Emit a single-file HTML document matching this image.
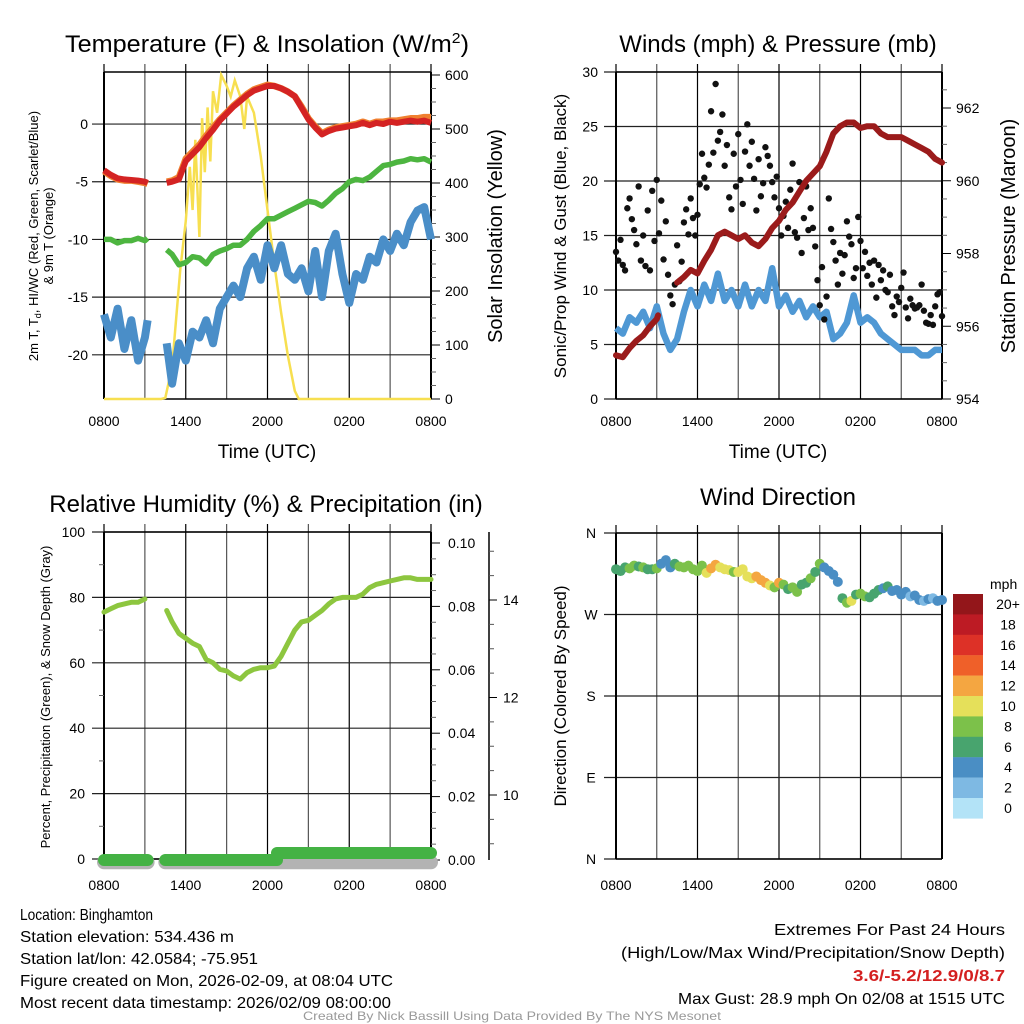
<!DOCTYPE html>
<html><head><meta charset="utf-8"><style>
html,body{margin:0;padding:0;background:#fff;}
svg{display:block;font-family:"Liberation Sans",sans-serif;}
</style></head><body>
<svg id="s" width="1024" height="1024" viewBox="0 0 1024 1024" xmlns="http://www.w3.org/2000/svg">
<text x="267" y="52" font-size="24" text-anchor="middle" textLength="404" lengthAdjust="spacingAndGlyphs">Temperature (F) &amp; Insolation (W/m<tspan dy="-9" font-size="15">2</tspan><tspan dy="9">)</tspan></text>
<text x="778" y="52" font-size="24" text-anchor="middle">Winds (mph) &amp; Pressure (mb)</text>
<text x="266" y="512" font-size="24" text-anchor="middle">Relative Humidity (%) &amp; Precipitation (in)</text>
<text x="778" y="505" font-size="24" text-anchor="middle">Wind Direction</text>

<text x="267" y="458" font-size="19" text-anchor="middle">Time (UTC)</text>
<text x="778" y="458" font-size="19" text-anchor="middle">Time (UTC)</text>

<g transform="translate(38,236) rotate(-90)">
<text x="0" y="0" font-size="13" text-anchor="middle">2m T, T<tspan font-size="9" dy="3">d</tspan><tspan dy="-3">, HI/WC (Red, Green, Scarlet/Blue)</tspan></text>
<text x="0" y="15" font-size="13" text-anchor="middle">&amp; 9m T (Orange)</text>
</g>
<text transform="translate(502,236) rotate(-90)" font-size="20" text-anchor="middle">Solar Insolation (Yellow)</text>
<text transform="translate(566,236) rotate(-90)" font-size="17" text-anchor="middle">Sonic/Prop Wind &amp; Gust (Blue, Black)</text>
<text transform="translate(1015,236) rotate(-90)" font-size="20" text-anchor="middle">Station Pressure (Maroon)</text>
<text transform="translate(50,697) rotate(-90)" font-size="13" text-anchor="middle">Percent, Precipitation (Green), &amp; Snow Depth (Gray)</text>
<text transform="translate(566,696) rotate(-90)" font-size="17" text-anchor="middle">Direction (Colored By Speed)</text>

<g font-size="16">
<text x="20" y="920" textLength="133" lengthAdjust="spacingAndGlyphs">Location: Binghamton</text>
<text x="20" y="942" textLength="214" lengthAdjust="spacingAndGlyphs">Station elevation: 534.436 m</text>
<text x="20" y="964" textLength="238" lengthAdjust="spacingAndGlyphs">Station lat/lon: 42.0584; -75.951</text>
<text x="20" y="986" textLength="373" lengthAdjust="spacingAndGlyphs">Figure created on Mon, 2026-02-09, at 08:04 UTC</text>
<text x="20" y="1008" textLength="371" lengthAdjust="spacingAndGlyphs">Most recent data timestamp: 2026/02/09 08:00:00</text>
</g>
<g font-size="16">
<text x="774" y="935" textLength="231" lengthAdjust="spacingAndGlyphs">Extremes For Past 24 Hours</text>
<text x="621" y="958" textLength="384" lengthAdjust="spacingAndGlyphs">(High/Low/Max Wind/Precipitation/Snow Depth)</text>
<text x="853" y="981" fill="#d42020" font-weight="bold" textLength="152" lengthAdjust="spacingAndGlyphs">3.6/-5.2/12.9/0/8.7</text>
<text x="678" y="1004" textLength="327" lengthAdjust="spacingAndGlyphs">Max Gust: 28.9 mph On 02/08 at 1515 UTC</text>
</g>
<text x="303" y="1020" font-size="12" fill="#999" textLength="418" lengthAdjust="spacingAndGlyphs">Created By Nick Bassill Using Data Provided By The NYS Mesonet</text>
</svg>
<script>
// ---------- data ----------
const xTickHours = [0,6,12,18,24];
const xTickLabels = ["0800","1400","2000","0200","0800"];
const tempTicks = [0,-5,-10,-15,-20];
const solarTicks = [0,100,200,300,400,500,600];
const windTicks = [0,5,10,15,20,25,30];
const presTicks = [954,956,958,960,962];
const rhTicks = [0,20,40,60,80,100];
const precipTicks = [0,0.02,0.04,0.06,0.08,0.10];
const snowTicks = [10,12,14];
const dirTicks = [360,270,180,90,0];
const dirLabels = ["N","W","S","E","N"];

const tHours = [0,0.5,1,1.5,2,2.5,3,3.2,null,4.6,5,5.5,6,6.5,7,7.5,8,8.5,9,9.5,10,10.5,11,11.5,12,12.5,13,13.5,14,14.5,15,15.5,16,16.5,17,17.5,18,18.5,19,19.5,20,20.5,21,21.5,22,22.5,23,23.5,24];
const tempRed = [-4,-4.4,-4.7,-4.8,-4.85,-4.9,-5.0,-5.1,null,-5.1,-5.0,-4.8,-3.2,-2.6,-2.0,-1.2,-0.5,0.3,0.9,1.5,2.0,2.5,2.9,3.1,3.3,3.3,3.1,2.8,2.4,1.4,0.4,-0.3,-0.9,-0.6,-0.4,-0.3,-0.2,-0.1,0.1,-0.1,0.1,0.0,0.2,0.1,0.2,0.3,0.2,0.3,0.1];
const temp9m = [-4.1,-4.5,-4.8,-4.9,-4.9,-5.0,-5.1,-5.2,null,-5.0,-4.9,-4.6,-3.0,-2.4,-1.8,-1.0,-0.3,0.4,1.0,1.6,2.1,2.6,3.0,3.2,3.4,3.3,3.1,2.8,2.4,1.5,0.5,-0.2,-0.8,-0.5,-0.3,-0.2,-0.1,0.0,0.2,0.0,0.2,0.2,0.3,0.3,0.4,0.5,0.5,0.6,0.6];
const tempGreen = [-10,-10,-10.3,-10.1,-10.1,-9.9,-10.1,-9.9,null,-10.9,-11.3,-12.2,-12.0,-11.5,-11.6,-12.1,-11.3,-11.0,-10.8,-10.5,-10.5,-10.0,-9.3,-8.8,-8.2,-8.2,-7.9,-7.6,-7.3,-7.0,-6.7,-6.8,-7.1,-6.6,-6.0,-5.6,-5.0,-4.8,-4.9,-4.6,-4.1,-3.6,-3.5,-3.3,-3.2,-3.0,-3.1,-3.0,-3.3];
const tempBlue = [-16.5,-18.5,-16,-19.5,-17,-20.5,-18.5,-17,null,-19,-22.5,-19,-20.5,-18,-18.5,-17,-19,-16,-15,-14,-15,-12.5,-11.5,-13.5,-10.5,-12.5,-10.5,-13,-13.5,-12.5,-14.5,-11,-15,-11,-9.5,-13,-15.5,-13,-13.5,-11.5,-12,-10,-11,-9.5,-10.5,-8.5,-7.5,-7.2,-10];
const solarHours = [0,4.2,4.5,5,5.3,5.6,6,6.3,6.5,6.7,7,7.2,7.4,7.6,7.8,8,8.3,8.6,9,9.3,9.6,10,10.3,10.5,11,11.5,12,12.5,13,13.5,14,14.3,24];
const solar = [0,0,2,60,150,240,330,430,350,480,300,520,420,540,440,570,530,600,580,560,590,560,500,560,530,450,350,250,160,80,15,0,0];

const wHours = [0,0.5,1,1.5,2,2.5,3,3.5,4,4.5,5,5.5,6,6.5,7,7.5,8,8.5,9,9.5,10,10.5,11,11.5,12,12.5,13,13.5,14,14.5,15,15.5,16,16.5,17,17.5,18,18.5,19,19.5,20,20.5,21,21.5,22,22.5,23,23.5,24];
const windSpeed = [6.5,6,7.5,7,8,6.5,8.5,6,4.5,5.5,8,10,8.5,10.5,9,11.5,9,10,8.5,10.5,8.5,10,9,12,8.5,9.5,8,9,7.5,8.5,7.5,8,5.5,6,7,9.5,7,7.5,7,6,5.5,5,4.5,4.5,4.5,4,4,4.5,4.5];
const gust = [13.5,12.7,14.6,12.3,11.8,17.5, 18.4,16.5,15.5,14.2,19.5,12.7, 15,12.2,17.3,11.8,19.1,14.5, 20.1,15.2,18.2,12.8,16.3,11.4, 9.5,8.7,10.5,14.1,10.8,12.6, 16.2,17.4,15.1,18.4,16.6,15.0, 16.9,19.7,22.5,20.3,19.4,21.5, 26.4,22.6,28.9,23.7,24.5,26.1, 21.4,23.3,18.5,17.4,22.5,19.5, 24.3,20.1,17.9,22.7,25.2,21.4, 23.6,20.2,17.3,22.0,18.6,19.8, 23.1,22.3,21.4,19.9,18.5,20.4, 17.5,15.0,16.8,18.1,15.7,19.2, 21.6,15.3,14.8,19.9,13.4,16.6, 19.5,15.5,17.5,15.7,14.0,10.9, 8.6,12.1,7.3,9.4,18.4,15.6, 14.4,12.7,10.5,13.4,11.5,13.2, 16.3,14.9,14.2,11.1,12.0,16.7, 14.5,12.0,13.5,11.3,12.5,10.5, 12.7,9.3,12.3,10.9,11.8,10.0, 9.8,11.4,8.5,7.7,9.4,8.9, 10.2,11.6,8.4,7.4,9.2,8.6, 8.3,8.4,8.6,10.5,8.1,7.0, 6.9,7.7,6.8,8.5,9.6,9.8, 7.6];
const pHours = [0,0.5,1,1.5,2,2.5,3,3.1,null,4.5,5,5.5,6,6.5,7,7.5,8,8.5,9,9.5,10,10.5,11,11.5,12,12.5,13,13.5,14,14.5,15,15.5,16,16.5,17,17.5,18,18.5,19,19.5,20,20.5,21,21.5,22,22.5,23,23.5,24];
const pressure = [955.2,955.15,955.4,955.6,955.75,956.0,956.2,956.3,null,957.2,957.35,957.55,957.45,957.8,958.1,958.5,958.6,958.5,958.4,958.5,958.3,958.2,958.4,958.7,958.9,959.2,959.4,959.7,960.0,960.2,960.4,960.8,961.3,961.5,961.6,961.6,961.45,961.5,961.5,961.3,961.2,961.2,961.2,961.1,961.0,960.9,960.8,960.6,960.5];

const rhHours = [0,0.5,1,1.5,2,2.5,3,null,4.6,5,5.5,6,6.5,7,7.5,8,8.5,9,9.5,10,10.5,11,11.5,12,12.5,13,13.5,14,14.5,15,15.5,16,16.5,17,17.5,18,18.5,19,19.5,20,20.5,21,21.5,22,22.5,23,23.5,24];
const rh = [75.5,76.5,77.5,78,78.5,78.5,79.5,null,76,72.5,69,67.5,66,65,61,60,58,57.5,56,55,57,58,58.5,58.5,59,62,66,70,72.5,73,74.5,76,78,79.5,80,80,80,81,83,84,84.5,85,85.5,86,86,85.5,85.5,85.5];
const precipHours = [0,3.2,null,4.5,12.7,null,12.7,24];
const precip = [0,0,null,0,0,null,0.0022,0.0022];
const snowHours = [0,3.2,null,4.5,24];
const snow = [8.62,8.62,null,8.62,8.62];

const dirHours = [0,0.33,0.67,1,1.33,1.67,2,2.33,2.67,3,3.33,3.67,4,4.33,4.67,5,5.33,5.67,6,6.33,6.67,7,7.33,7.67,8,8.33,8.67,9,9.33,9.67,10,10.33,10.67,11,11.33,11.67,12,12.33,12.67,13,13.33,13.67,14,14.33,14.67,15,15.33,15.67,16,16.33,16.67,17,17.33,17.67,18,18.33,18.67,19,19.33,19.67,20,20.33,20.67,21,21.33,21.67,22,22.33,22.67,23,23.33,23.67,24];
const direction = [320,318,322,321,324,323,322,320,320,321,326,330,322,326,323,322,324,320,318,324,316,321,325,322,320,319,317,317,320,312,310,312,308,305,302,300,305,303,298,300,295,303,305,310,317,326,322,318,314,306,288,283,285,292,293,290,289,293,297,299,301,296,297,292,295,290,291,286,285,287,288,285,286];
const dirSpeed = [6,6,7,8,8,7,8,6,7,8,4,4,5,6,8,8,9,8,9,8,10,12,13,10,10,11,8,10,11,10,11,12,13,13,10,9,12,8,7,8,9,7,6,8,7,8,5,4,5,4,6,9,10,7,8,8,7,6,7,5,6,4,5,4,4,3,4,4,3,4,3,4,4];
const cbLabels = ["20+","18","16","14","12","10","8","6","4","2","0"];
const cbColors = ["#93161a","#bd1b24","#dd3127","#ef6029","#f4a641","#e5e05a","#7cc14a","#48a46e","#4a8ec4","#7eb9e3","#b3e3f7"];

// ---------- helpers ----------
const NS="http://www.w3.org/2000/svg";
const svg=document.getElementById('s');
function el(tag,attrs,parent){const e=document.createElementNS(NS,tag);for(const k in attrs)e.setAttribute(k,attrs[k]);(parent||svg).appendChild(e);return e;}
function lin(d0,d1,r0,r1){return v=>r0+(v-d0)*(r1-r0)/(d1-d0);}
function pathD(xs,ys,sx,sy){let d="",pen=false;for(let i=0;i<xs.length;i++){if(xs[i]===null||ys[i]===null){pen=false;continue;}d+=(pen?"L":"M")+sx(xs[i]).toFixed(1)+","+sy(ys[i]).toFixed(1);pen=true;}return d;}

function frame(g,x0,x1,y0,y1,sx,hLines,sy){
  for(let h=0;h<=24;h+=3){
    const l=el('line',{x1:sx(h),x2:sx(h),y1:y0-8,y2:y1,stroke:(h%6===0)?'#000':'#555','stroke-width':1.2},g);
    
    
  }
  hLines.forEach(v=>{
    const l=el('line',{x1:x0-12,x2:x1+0,y1:sy(v),y2:sy(v),stroke:'#222','stroke-width':1.2},g);
    
    
  });
  el('line',{x1:x0,x2:x0,y1:y0,y2:y1,stroke:'#000','stroke-width':2},g);
  el('line',{x1:x1,x2:x1,y1:y0,y2:y1,stroke:'#000','stroke-width':2},g);
  el('line',{x1:x0,x2:x1,y1:y0,y2:y0,stroke:'#000','stroke-width':1.5},g);
  el('line',{x1:x0,x2:x1,y1:y1,y2:y1,stroke:'#000','stroke-width':1.5},g);
}
function xLabels(g,sx,y){
  xTickHours.forEach((h,i)=>{
    const t=el('text',{x:sx(h),y:y,'font-size':14,'text-anchor':'middle'},g);t.textContent=xTickLabels[i];
    
    
  });
}

// ---------- Panel 1: temperature ----------
{
const g=el('g',{});


const x0=104,x1=431,y0=72,y1=399;
const sx=lin(0,24,x0,x1), sy=lin(-23.83,4.51,y1,y0), sr=lin(0,600,399,75);
frame(g,x0,x1,y0,y1,sx,tempTicks,sy);
tempTicks.forEach(v=>{const t=el('text',{x:88,y:sy(v)+5,'font-size':14,'text-anchor':'end'},g);t.textContent=v;
 
 });
solarTicks.forEach(v=>{el('line',{x1:x1,x2:x1+9,y1:sr(v),y2:sr(v),stroke:'#000'},g);
 const t=el('text',{x:x1+14,y:sr(v)+5,'font-size':14},g);t.textContent=v;
 
 });
for(let v=25;v<600;v+=25){if(v%100)el('line',{x1:x1,x2:x1+5,y1:sr(v),y2:sr(v),stroke:'#666'},g);}
xLabels(g,sx,426);
const s1=el('path',{d:pathD(solarHours,solar,sx,sr),fill:'none',stroke:'#f7df50','stroke-width':2.5},g);


const b=el('path',{d:pathD(tHours,tempBlue,sx,sy),fill:'none',stroke:'#4a8ec8','stroke-width':8,'stroke-linejoin':'round'},g);


const gr=el('path',{d:pathD(tHours,tempGreen,sx,sy),fill:'none',stroke:'#4db540','stroke-width':5.5,'stroke-linejoin':'round'},g);


const o=el('path',{d:pathD(tHours,temp9m,sx,sy),fill:'none',stroke:'#f08030','stroke-width':6.5,'stroke-linejoin':'round'},g);


const r=el('path',{d:pathD(tHours,tempRed,sx,sy),fill:'none',stroke:'#d42323','stroke-width':6,'stroke-linejoin':'round'},g);


}

// ---------- Panel 2: winds ----------
{
const g=el('g',{});


const x0=616,x1=942,y0=72,y1=399;
const sx=lin(0,24,x0,x1), sy=lin(0,30,y1,y0), sp=lin(954,962,399,108);
frame(g,x0,x1,y0,y1,sx,windTicks,sy);
windTicks.forEach(v=>{const t=el('text',{x:598,y:sy(v)+5,'font-size':14,'text-anchor':'end'},g);t.textContent=v;
 
 });
presTicks.forEach(v=>{el('line',{x1:x1,x2:x1+9,y1:sp(v),y2:sp(v),stroke:'#000'},g);
 const t=el('text',{x:x1+14,y:sp(v)+5,'font-size':14},g);t.textContent=v;
 
 });
for(let v=954.5;v<963;v+=0.5){if(v%2)el('line',{x1:x1,x2:x1+5,y1:sp(v),y2:sp(v),stroke:'#666'},g);}
xLabels(g,sx,426);
const w=el('path',{d:pathD(wHours,windSpeed,sx,sy),fill:'none',stroke:'#4f98d4','stroke-width':6.5,'stroke-linejoin':'round'},g);


gust.forEach((v,i)=>{const c=el('circle',{cx:sx(i/6),cy:sy(v),r:3.2,fill:'#111'},g);
 
 });
const p=el('path',{d:pathD(pHours,pressure,sx,sp),fill:'none',stroke:'#9b1b1b','stroke-width':6,'stroke-linejoin':'round','stroke-linecap':'round'},g);


}

// ---------- Panel 3: humidity ----------
{
const g=el('g',{});


const x0=104,x1=431,y0=532,y1=859;
const sx=lin(0,24,x0,x1), sy=lin(0,100,y1,y0), spr=lin(0,0.1,860,543), ssn=lin(10,14,795,600);
frame(g,x0,x1,y0,y1,sx,rhTicks,sy);
for(let v=10;v<100;v+=20)el('line',{x1:x0-5,x2:x0,y1:sy(v),y2:sy(v),stroke:'#666'},g);
rhTicks.forEach(v=>{const t=el('text',{x:85,y:sy(v)+5,'font-size':14,'text-anchor':'end'},g);t.textContent=v;
 
 });
precipTicks.forEach(v=>{el('line',{x1:x1,x2:x1+9,y1:spr(v),y2:spr(v),stroke:'#000'},g);
 const t=el('text',{x:x1+17,y:spr(v)+5,'font-size':14},g);t.textContent=v.toFixed(2);
 
 });
for(let v=0.005;v<0.1;v+=0.005){if(Math.round(v*1000)%20)el('line',{x1:x1,x2:x1+5,y1:spr(v),y2:spr(v),stroke:'#666'},g);}
el('line',{x1:489,x2:489,y1:532,y2:860,stroke:'#000','stroke-width':1.5},g);
snowTicks.forEach(v=>{el('line',{x1:489,x2:497,y1:ssn(v),y2:ssn(v),stroke:'#000'},g);
 const t=el('text',{x:503,y:ssn(v)+5,'font-size':14},g);t.textContent=v;
 
 });
for(let v=9;v<=15;v+=0.5){if(v%2)el('line',{x1:489,x2:494,y1:ssn(v),y2:ssn(v),stroke:'#555'},g);}
xLabels(g,sx,890);
const rl=el('path',{d:pathD(rhHours,rh,sx,sy),fill:'none',stroke:'#8dc63f','stroke-width':5,'stroke-linejoin':'round','stroke-linecap':'round'},g);


const sn=el('path',{d:pathD(snowHours,snow,sx,ssn),fill:'none',stroke:'#b3b3b3','stroke-width':14,'stroke-linecap':'round'},g);


const pr=el('path',{d:pathD(precipHours,precip,sx,spr),fill:'none',stroke:'#44b244','stroke-width':12,'stroke-linecap':'round'},g);


}

// ---------- Panel 4: wind direction ----------
{
const g=el('g',{});


const x0=616,x1=942,y0=533,y1=859;
const sx=lin(0,24,x0,x1), sy=lin(0,360,y1,y0);
frame(g,x0,x1,y0,y1,sx,dirTicks,sy);
dirTicks.forEach((v,i)=>{const t=el('text',{x:591,y:sy(v)+5,'font-size':14,'text-anchor':'middle'},g);t.textContent=dirLabels[i];
 
 });
xLabels(g,sx,890);
function col(s){let k=Math.floor(s/2);if(k>10)k=10;return cbColors[10-k];}
direction.forEach((v,i)=>{const c=el('circle',{cx:sx(dirHours[i]),cy:sy(v),r:5,fill:col(dirSpeed[i])},g);
 
 });
const t=el('text',{x:990,y:589,'font-size':14},g);t.textContent='mph';


cbColors.forEach((c,i)=>{const r=el('rect',{x:953,y:594+i*20.4,width:30,height:20.6,fill:c},g);
 
 
 const l=el('text',{x:1008,y:594+i*20.4+15,'font-size':14,'text-anchor':'middle'},g);l.textContent=cbLabels[i];
 
 });
}
</script>
</body></html>
